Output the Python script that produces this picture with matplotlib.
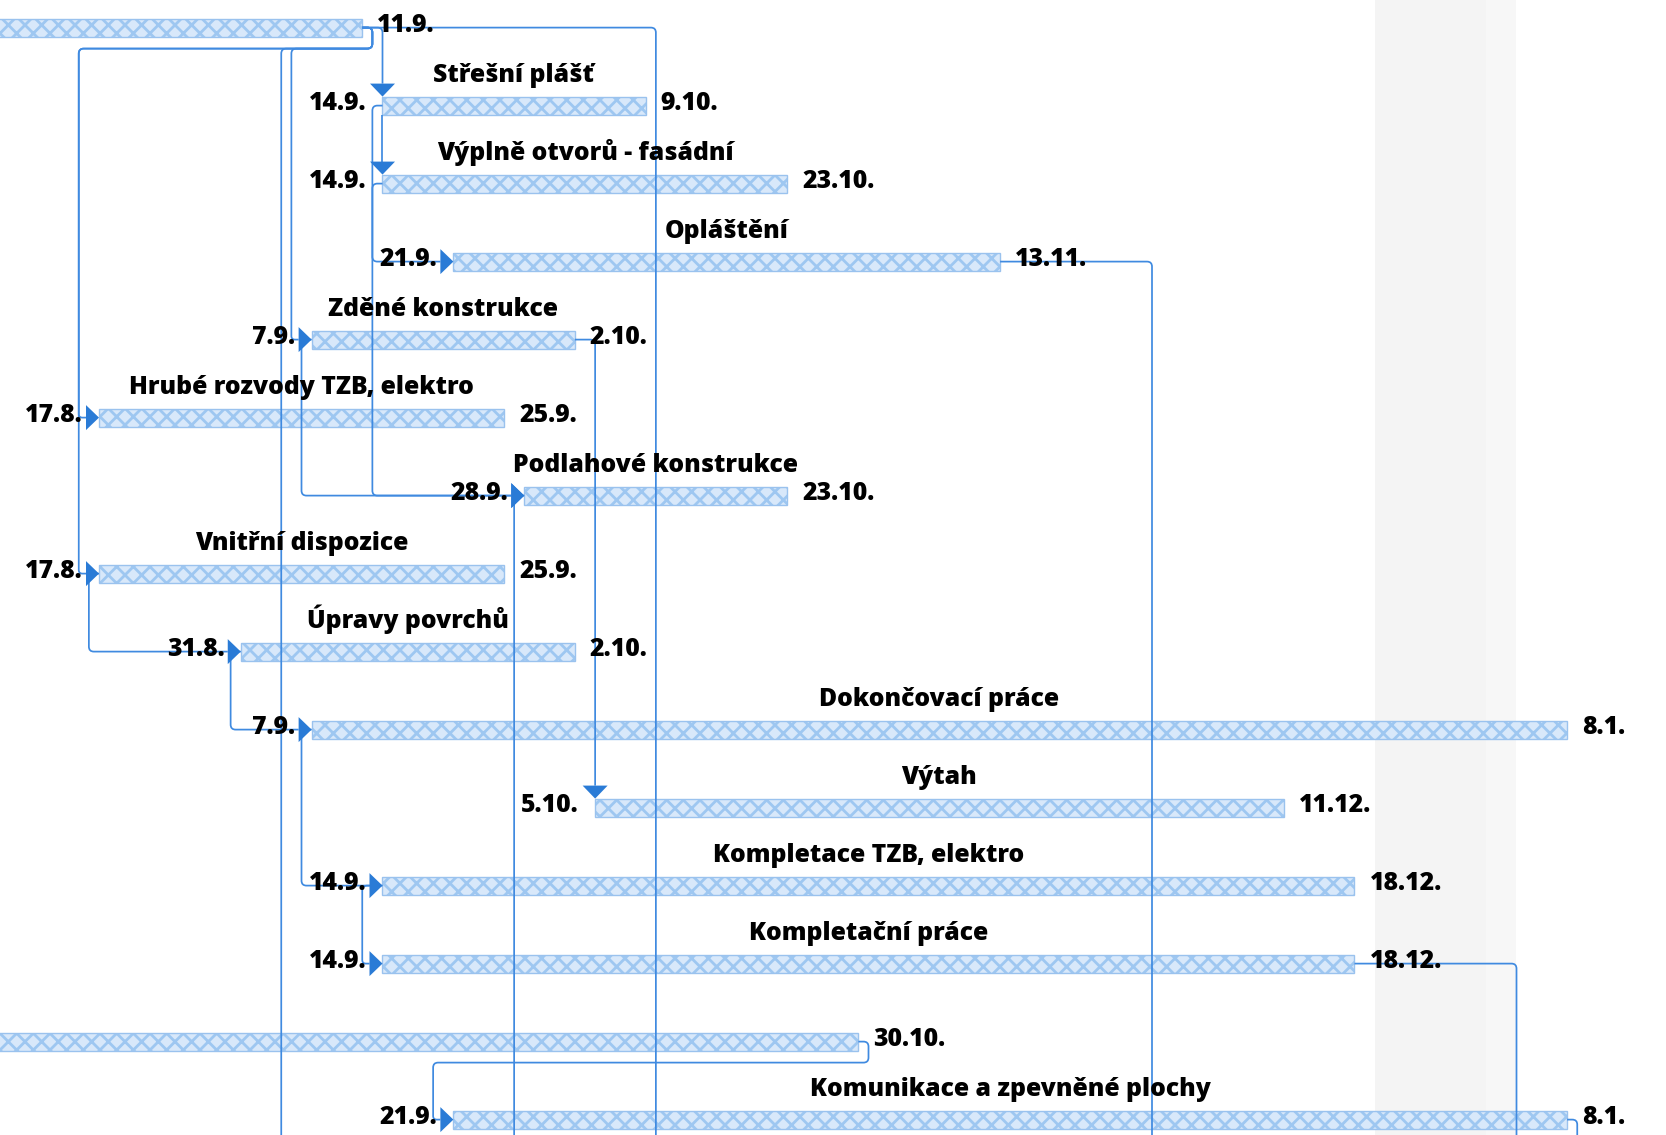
import numpy as np
import matplotlib
matplotlib.use("Agg")
import matplotlib.pyplot as plt
from matplotlib.path import Path
from matplotlib.patches import PathPatch, Rectangle, Polygon

# ---------------- data ----------------
task_names = ["", "Střešní plášť", "Výplně otvorů - fasádní", "Opláštění",
              "Zděné konstrukce", "Hrubé rozvody TZB, elektro", "Podlahové konstrukce",
              "Vnitřní dispozice", "Úpravy povrchů", "Dokončovací práce", "Výtah",
              "Kompletace TZB, elektro", "Kompletační práce", "",
              "Komunikace a zpevněné plochy"]
task_start = ["2023-07-24", "2023-09-14", "2023-09-14", "2023-09-21", "2023-09-07",
              "2023-08-17", "2023-09-28", "2023-08-17", "2023-08-31", "2023-09-07",
              "2023-10-05", "2023-09-14", "2023-09-14", "2023-07-03", "2023-09-21"]
task_finish = ["2023-09-11", "2023-10-09", "2023-10-23", "2023-11-13", "2023-10-02",
               "2023-09-25", "2023-10-23", "2023-09-25", "2023-10-02", "2024-01-08",
               "2023-12-11", "2023-12-18", "2023-12-18", "2023-10-30", "2024-01-08"]
# successors lying below the visible part of the chart
hidden_start = ["2023-10-11", "2023-09-06", "2023-11-29", "2023-09-28",
                "2024-01-04", "2023-12-20"]
# dependencies (index >= 15 -> hidden successor)
link_pred = [0, 0, 0, 0, 0, 0, 1, 1, 2, 3, 4, 4, 6, 7, 8, 9, 11, 12, 13, 14]
link_succ = [1, 15, 5, 7, 4, 16, 2, 3, 6, 17, 6, 10, 18, 8, 9, 11, 12, 19, 14, 20]
link_type = ["FS", "FS", "FS", "FS", "FS", "FS", "SS", "SS", "SS", "FS", "SS", "FS",
             "SS", "SS", "SS", "SS", "SS", "FS", "FS", "FS"]
holiday_spans = [("2023-12-21", "2024-01-01"), ("2024-01-01", "2024-01-04")]

# ---------------- layout / style ----------------
W, H = 1666, 1135
PXD = 10.125          # px per day
PXR = 78.0            # px per row
REF = np.datetime64("2023-09-14")
REF_PX = 382.5
ROW0_PX = 27.6
XL = -REF_PX / PXD
XR = XL + W / PXD
YT = -ROW0_PX / PXR
YB = YT + H / PXR
BAR_H = 18.0
LINE = "#3f8ae0"
ARROW = "#2a7bd6"
LW = 1.25
FONT = dict(family=["Open Sans", "DejaVu Sans"], fontweight=800, fontsize=17.8, color="black")


def day(s):
    return float((np.datetime64(s) - REF).astype(int))


def lbl(s):
    d = np.datetime64(s).astype(object)
    return f"{d.day}.{d.month}."


def to_px(x, y):
    return np.array([(x - XL) * PXD, (y - YT) * PXR])


def from_px(p):
    return (p[0] / PXD + XL, p[1] / PXR + YT)


plt.rcParams["hatch.linewidth"] = 2.0
fig = plt.figure(figsize=(W / 100, H / 100), dpi=100)
ax = fig.add_axes([0, 0, 1, 1])
ax.set_xlim(XL, XR)
ax.set_ylim(YB, YT)
ax.axis("off")

# holiday shading
for (a, b), c in zip(holiday_spans, ["#f4f4f4", "#f7f7f7"]):
    ax.axvspan(day(a), day(b), color=c, zorder=0, lw=0)

n = len(task_names)
starts = [day(s) for s in task_start] + [day(s) for s in hidden_start]
ends = [day(s) + 1 for s in task_finish] + [day(s) + 1 for s in hidden_start]
rows = list(range(n)) + [n + 1] * len(hidden_start)

# bars
bh = BAR_H / PXR
for i in range(n):
    ax.add_patch(Rectangle((starts[i], rows[i] - bh / 2), ends[i] - starts[i], bh,
                           facecolor="#d8e8fa", edgecolor="#9ec7f1", hatch="xx",
                           lw=0, zorder=2))
    ax.add_patch(Rectangle((starts[i], rows[i] - bh / 2), ends[i] - starts[i], bh,
                           fill=False, edgecolor="#9ac2ee", lw=1.0, zorder=2))


def route(pts_px, r=5.0):
    P = [np.array(p, float) for p in pts_px]
    Q = [P[0]]
    for p in P[1:]:
        if np.hypot(*(p - Q[-1])) > 1e-6:
            Q.append(p)
    verts, codes = [Q[0]], [Path.MOVETO]
    for i in range(1, len(Q) - 1):
        a, b, c = Q[i - 1], Q[i], Q[i + 1]
        d1, d2 = b - a, c - b
        l1, l2 = np.hypot(*d1), np.hypot(*d2)
        rr = min(r, l1 / 2, l2 / 2)
        verts += [b - d1 / l1 * rr, b, b + d2 / l2 * rr]
        codes += [Path.LINETO, Path.CURVE3, Path.CURVE3]
    verts.append(Q[-1])
    codes.append(Path.LINETO)
    ax.add_patch(PathPatch(Path([from_px(v) for v in verts], codes), fill=False,
                           ec=LINE, lw=LW, zorder=3))


AW, AH = 13.0, 25.0


def arrow_right(tip):
    x, y = tip
    pts = [from_px((x, y)), from_px((x - AW, y - AH / 2)), from_px((x - AW, y + AH / 2))]
    ax.add_patch(Polygon(pts, closed=True, fc=ARROW, ec="none", zorder=4))


def arrow_down(tip):
    x, y = tip
    pts = [from_px((x, y)), from_px((x - AH / 2, y - AW)), from_px((x + AH / 2, y - AW))]
    ax.add_patch(Polygon(pts, closed=True, fc=ARROW, ec="none", zorder=4))


for p, s, t in zip(link_pred, link_succ, link_type):
    ps, pe = to_px(starts[p], rows[p]), to_px(ends[p], rows[p])
    ss = to_px(starts[s], rows[s])
    yp, ys = ps[1], ss[1]
    if t == "FS":
        if ss[0] >= pe[0] - 0.5:
            top = ys - BAR_H / 2
            route([(pe[0], yp), (ss[0], yp), (ss[0], top - AW)])
            arrow_down((ss[0], top))
        else:
            jx = pe[0] + PXD
            jy = yp + 21
            lane = ss[0] - 2 * PXD
            route([(pe[0], yp), (jx, yp), (jx, jy), (lane, jy), (lane, ys), (ss[0] - AW, ys)])
            arrow_right((ss[0], ys))
    else:  # SS
        if abs(ss[0] - ps[0]) < 0.5 and s == p + 1 and p == 1:
            top = ys - BAR_H / 2
            route([(ps[0], yp + BAR_H / 2), (ss[0], top - AW)])
            arrow_down((ss[0], top))
        else:
            lane = ps[0] - (2 if p == 11 else 1) * PXD
            route([(ps[0], yp), (lane, yp), (lane, ys), (ss[0] - AW, ys)])
            arrow_right((ss[0], ys))

# labels (only those that fall inside the visible window)
for i in range(n):
    x0, x1, r = starts[i], ends[i], rows[i]
    if task_names[i]:
        ax.text((x0 + x1) / 2, r - 24 / PXR, task_names[i], ha="center", va="baseline",
                zorder=5, **FONT)
    if x0 - 16 / PXD - 60 / PXD > XL:
        ax.text(x0 - 16 / PXD, r + 4 / PXR, lbl(task_start[i]), ha="right", va="baseline",
                zorder=5, **FONT)
    ax.text(x1 + 15 / PXD, r + 4 / PXR, lbl(task_finish[i]), ha="left", va="baseline",
            zorder=5, **FONT)

fig.savefig("out.png", dpi=100)
